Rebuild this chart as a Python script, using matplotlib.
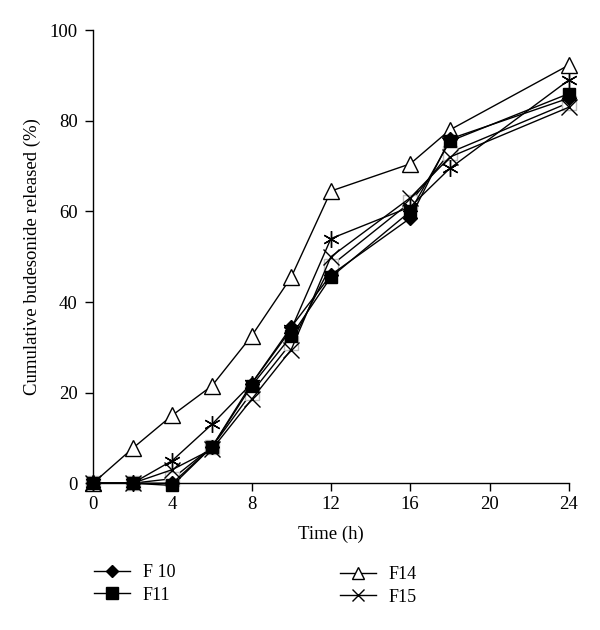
import matplotlib
matplotlib.use("Agg")
import matplotlib.pyplot as plt
from matplotlib.lines import Line2D

plt.rcParams['font.family'] = ['Liberation Serif', 'DejaVu Serif']

time_h = [0, 2, 4, 6, 8, 10, 12, 16, 18, 24]
f10 = [0, 0, 0, 8, 22, 34.5, 46, 58.5, 76, 85]
f11 = [0, 0, -0.5, 8, 21.5, 32.5, 45.5, 60, 75.5, 86]
f12 = [0, 0, 1, 8, 20, 31, 48, 62, 73, 84]
f13 = [0, 0, 5, 13, 22, 34, 54, 61, 69.5, 89]
f14 = [0, 7.7, 15, 21.5, 32.5, 45.5, 64.5, 70.5, 78, 92.3]
f15 = [0, 0, 3, 7.5, 18.5, 29.5, 50, 63, 72, 83]

xticks = [0, 4, 8, 12, 16, 20, 24]
yticks = [0, 20, 40, 60, 80, 100]

fig = plt.figure(figsize=(6, 6.3), dpi=100)
ax = fig.add_axes([0.155, 0.233, 0.793, 0.719])

common = dict(color='black', lw=1.0, clip_on=False)
ax.plot(time_h, f12, marker='s', ms=10, mfc='white', mec='#bbbbbb', **common)
ax.plot(time_h, f13, marker=(6, 2, 0), ms=12, mew=1.0, **common)
ax.plot(time_h, f14, marker='^', ms=12, mfc='white', mec='black', **common)
ax.plot(time_h, f15, marker='x', ms=11, mew=1.0, **common)
ax.plot(time_h, f11, marker='s', ms=9, mfc='black', mec='black', **common)
ax.plot(time_h, f10, marker='D', ms=7, mfc='black', mec='black', **common)

ax.set_xlim(0, 24)
ax.set_ylim(0, 100)
ax.set_xticks(xticks)
ax.set_yticks(yticks)
ax.tick_params(axis='both', labelsize=13.5, direction='out', length=6, width=1)
ax.tick_params(axis='x', pad=3)
ax.tick_params(axis='y', pad=5)
for s in ['top', 'right']:
    ax.spines[s].set_visible(False)
for s in ['left', 'bottom']:
    ax.spines[s].set_linewidth(1.0)
ax.set_xlabel('Time (h)', fontsize=13.5, labelpad=9)
ax.set_ylabel('Cumulative budesonide released (%)', fontsize=13.5, labelpad=6)

h10 = Line2D([], [], color='black', lw=1, marker='D', ms=6, mfc='black')
h11 = Line2D([], [], color='black', lw=1, marker='s', ms=8, mfc='black')
h14 = Line2D([], [], color='black', lw=1, marker='^', ms=9, mfc='white')
h15 = Line2D([], [], color='black', lw=1, marker='x', ms=8)

fig.legend([h10, h11], ['F 10', 'F11'], loc='center left',
           bbox_to_anchor=(0.13, 0.073), frameon=False, fontsize=13,
           handlelength=2.0, handletextpad=0.7, labelspacing=0.3)
fig.legend([h14, h15], ['F14', 'F15'], loc='center left',
           bbox_to_anchor=(0.54, 0.07), frameon=False, fontsize=13,
           handlelength=2.0, handletextpad=0.7, labelspacing=0.3)

fig.savefig('out.png', dpi=100)
